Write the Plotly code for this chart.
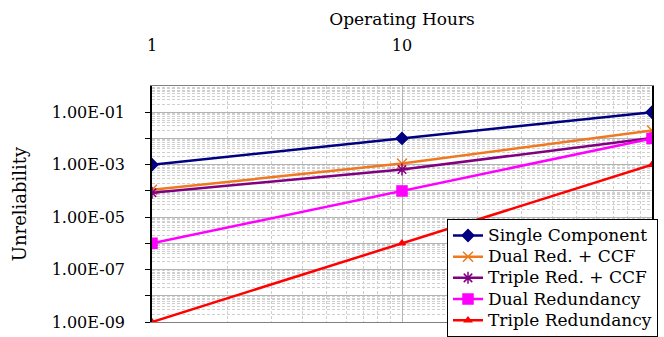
import plotly.graph_objects as go

# Operating time (hours) on the log x-axis
hours = [1, 10, 100]

# Unreliability of each architecture
single_component = [1e-3, 1e-2, 1e-1]
dual_red_ccf = [1.1e-4, 1.1e-3, 2.0e-2]
triple_red_ccf = [8.5e-5, 6.5e-4, 1.05e-2]
dual_redundancy = [1e-6, 1e-4, 1e-2]
triple_redundancy = [1e-9, 1e-6, 1e-3]

series_names = ["Single Component", "Dual Red. + CCF", "Triple Red. + CCF",
                "Dual Redundancy", "Triple Redundancy"]

# Axis ticks
x_tick_vals = [1, 10, 100]
x_tick_text = ["1", "10", "100"]
y_tick_vals = [1e-9, 1e-8, 1e-7, 1e-6, 1e-5, 1e-4, 1e-3, 1e-2, 1e-1]
y_tick_text = ["1.00E-09", "", "1.00E-07", "", "1.00E-05", "", "1.00E-03", "", "1.00E-01"]

FONT = "DejaVu Serif"

styles = [
    dict(color="#000080", symbol="diamond", size=9),
    dict(color="#F07820", symbol="x-thin-open", size=10),
    dict(color="#800080", symbol="asterisk-open", size=10),
    dict(color="#FF00FF", symbol="square", size=10),
    dict(color="#FF0000", symbol="triangle-up", size=6),
]
values = [single_component, dual_red_ccf, triple_red_ccf, dual_redundancy, triple_redundancy]

fig = go.Figure()
for name, vals, st in zip(series_names, values, styles):
    fig.add_trace(go.Scatter(
        x=hours, y=vals,
        # larger legend text on a compact row height
        name=f'<span style="font-size:17px">{name}</span>',
        mode="lines+markers",
        line=dict(color=st["color"], width=2.5),
        marker=dict(symbol=st["symbol"], size=st["size"], color=st["color"],
                    line=dict(color=st["color"], width=1.5)),
    ))

# minor log grid (2..9 within each decade)
x_minor = [k * 10 ** d for d in range(0, 2) for k in range(2, 10)]
y_minor = [k * 10.0 ** d for d in range(-9, 0) for k in range(2, 10)]

fig.update_layout(
    width=664, height=337,
    margin=dict(l=152, r=12, t=86, b=15, autoexpand=False),
    paper_bgcolor="white", plot_bgcolor="white",
    font=dict(family=FONT, size=16, color="black"),
    showlegend=True,
    legend=dict(x=0.59, y=0.437, xanchor="left", yanchor="top",
                bgcolor="white", bordercolor="black", borderwidth=1,
                font=dict(family=FONT, size=14), tracegroupgap=0),
    xaxis=dict(
        type="log", range=[0, 2], side="top",
        tickvals=x_tick_vals, ticktext=x_tick_text, ticks="",
        ticklabelstandoff=28,
        showgrid=True, gridcolor="#b4b4b4", gridwidth=1,
        minor=dict(tickvals=x_minor, showgrid=True, gridcolor="#cfcfcf",
                   griddash="3px,2px", gridwidth=1, ticks=""),
        showline=True, linecolor="#808080", linewidth=1, mirror=True,
        zeroline=False,
        title=dict(text="Operating Hours", font=dict(family=FONT, size=17), standoff=5),
    ),
    yaxis=dict(
        type="log", range=[-9, 0],
        tickvals=y_tick_vals, ticktext=y_tick_text,
        ticks="outside", ticklen=5, tickcolor="black",
        ticklabelstandoff=17,
        showgrid=True, gridcolor="#b4b4b4", gridwidth=1,
        minor=dict(tickvals=y_minor, showgrid=True, gridcolor="#cfcfcf",
                   griddash="3px,2px", gridwidth=1, ticks=""),
        showline=True, linecolor="black", linewidth=1.5, mirror=True,
        zeroline=False,
        title=dict(text="Unreliability", font=dict(family=FONT, size=18), standoff=20),
    ),
)

fig.write_html("out.html")
